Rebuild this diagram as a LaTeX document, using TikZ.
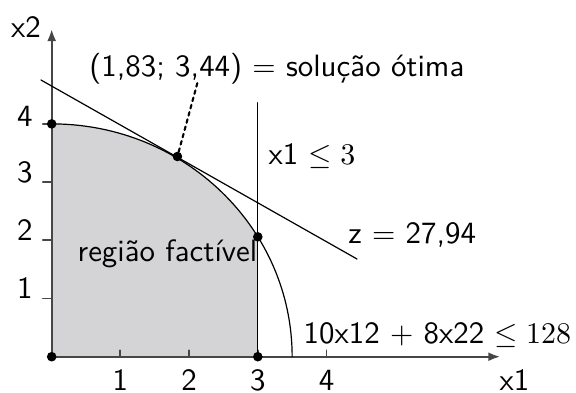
\documentclass[tikz,border=0pt]{standalone}
\usepackage{fontspec}
\usetikzlibrary{arrows.meta}
\definecolor{regiao}{RGB}{212,212,214}
\definecolor{eixo}{RGB}{70,70,70}

\begin{document}
\begin{tikzpicture}[x=0.805cm, y=0.682cm, line cap=round, line join=round,
  every node/.style={font=\sffamily\fontsize{10.3pt}{12pt}\selectfont, inner sep=0pt},
  axis/.style={eixo, line width=0.75pt, -{Latex[length=4pt,width=3pt]}},
  tick/.style={eixo, line width=0.6pt},
  curve/.style={line width=0.4pt},
  dotline/.style={line width=0.7pt, dash pattern=on 1.2pt off 1.3pt},
  dot/.style={circle, fill, inner sep=0pt, minimum size=3.2pt}]
  \useasboundingbox (-0.7525,-0.6065) rectangle (7.632,6.129);
  % Corner points and ends of lines.
  \coordinate (o) at (0,0);
  \coordinate (x3) at (3,0);
  \coordinate (y4) at (0,4);
  \coordinate (cut) at (3,2.06);
  \coordinate (opt) at (1.83,3.44);
  \coordinate (xend) at (6.53,0);
  \coordinate (yend) at (0,5.63);
  \coordinate (vtop) at (3,4.364);
  \coordinate (zstart) at (-0.156,4.754);
  \coordinate (zend) at (4.444,1.679);
  \coordinate (lead) at (2.12,4.70);
  % Feasible region.
  \fill[regiao] (o) -- (y4) arc[start angle=90, end angle=31.0, x radius=3.5, y radius=4] -- (x3) -- cycle;
  % Axes with ticks.
  \draw[axis] (o) -- (xend);
  \draw[axis] (o) -- (yend);
  \draw[tick] (1,0) -- (1,0.11);
  \draw[tick] (2,0) -- (2,0.11);
  \draw[tick] (3,0) -- (3,0.11);
  \draw[tick] (4,0) -- (4,0.11);
  \draw[tick] (0,1) -- (-0.13,1);
  \draw[tick] (0,2) -- (-0.13,2);
  \draw[tick] (0,3) -- (-0.13,3);
  \draw[tick] (0,4) -- (-0.13,4);
  \node[anchor=base] (t1) at (1,-0.572) {1};
  \node[anchor=base] (t2) at (2,-0.572) {2};
  \node[anchor=base] (t3) at (3,-0.572) {3};
  \node[anchor=base] (t4) at (4,-0.572) {4};
  \node[anchor=base east] (s1) at (-0.27,1) {1};
  \node[anchor=base east] (s2) at (-0.27,2) {2};
  \node[anchor=base east] (s3) at (-0.27,3) {3};
  \node[anchor=base east] (s4) at (-0.27,3.96) {4};
  \node[anchor=base west] (xlab) at (6.51,-0.572) {x1};
  \node[anchor=base east] (ylab) at (-0.15,5.48) {x2};
  % Constraints and objective.
  \draw[curve] (y4) arc[start angle=90, end angle=0, x radius=3.5, y radius=4];
  \draw[curve] (x3) -- (vtop);
  \draw[curve] (zstart) -- (zend);
  \draw[dotline] (lead) -- (opt);
  % Points.
  \node[dot] (po) at (o) {};
  \node[dot] (px3) at (x3) {};
  \node[dot] (py4) at (y4) {};
  \node[dot] (pcut) at (cut) {};
  \node[dot] (popt) at (opt) {};
  % Labels.
  \node[anchor=base west] (title) at (0.54,4.82) {(1,83; 3,44) $=$ solução ótima};
  \node[anchor=base west] (lim) at (3.15,3.294) {x1 $\leq 3$};
  \node[anchor=base west] (zval) at (4.31,1.948) {z $=$ 27,94};
  \node[anchor=base west] (ell) at (3.66,0.23) {10x12 $+$ 8x22 $\leq 128$};
  \node[anchor=base west] (reg) at (0.37,1.644) {região factível};
\end{tikzpicture}
\end{document}
